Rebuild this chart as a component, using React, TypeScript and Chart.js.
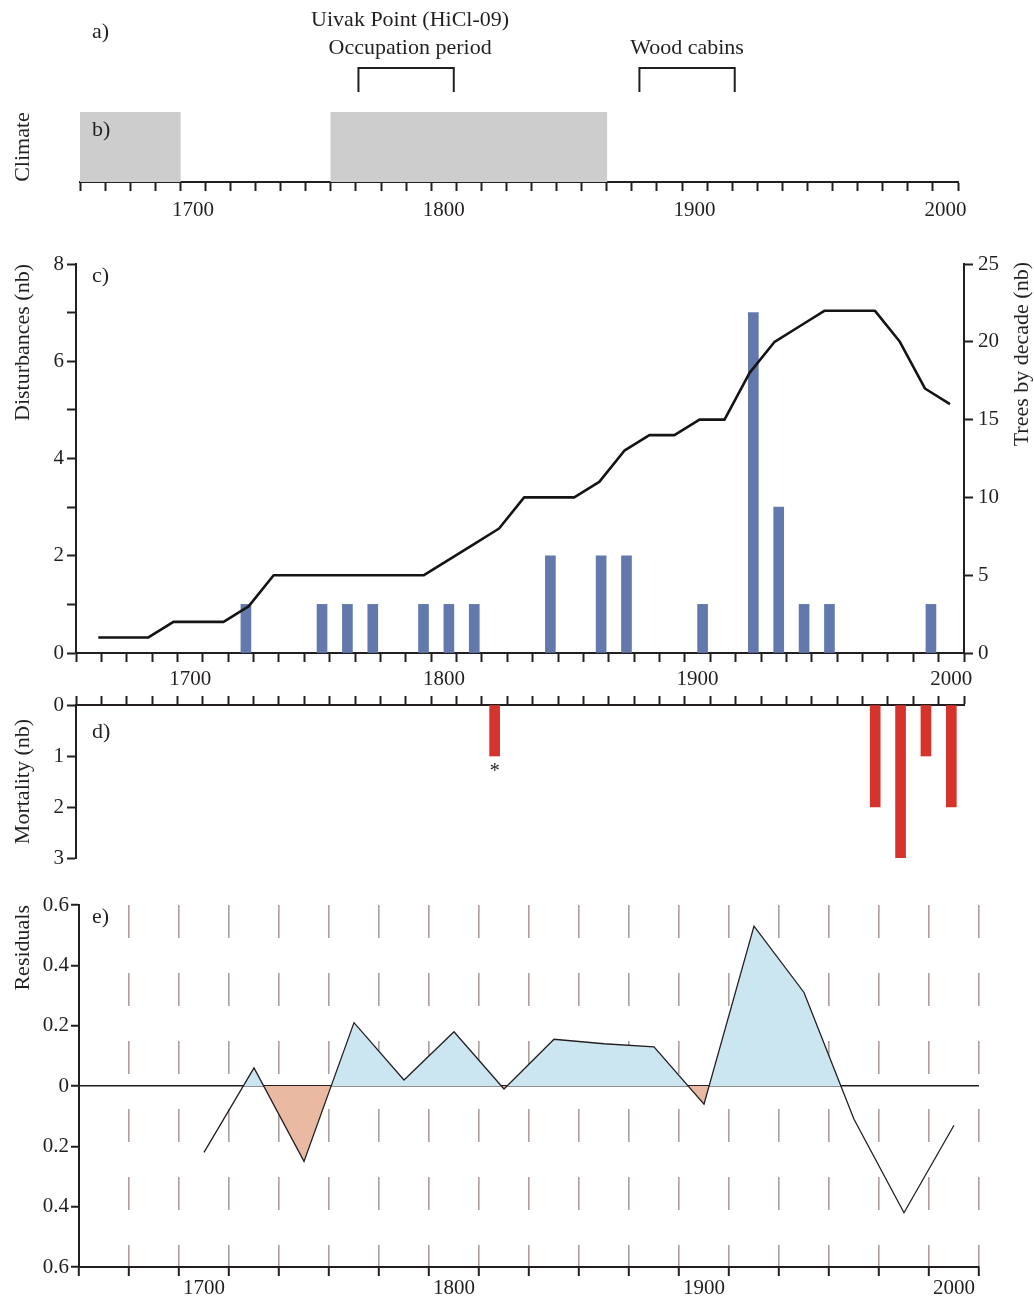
import { useEffect, useRef } from 'react';
import { Chart, registerables } from 'chart.js';

Chart.register(...registerables);

const INK = '#231f20';
const SERIF = "'Liberation Serif', 'Times New Roman', Times, serif";
const NONE = 'rgba(0,0,0,0)';
const WIDTH = 1034;

const DISTURBANCE_BLUE = '#6379ae';
const MORTALITY_RED = '#d6332d';
const CLIMATE_GREY = '#cdcdcd';
const POSITIVE_FILL = '#cbe5f1';
const NEGATIVE_FILL = '#eab9a1';
const GRID_DASH = '#aa9f9b';

Chart.defaults.font.family = SERIF;
Chart.defaults.color = INK;

// a) settlement history
const SETTLEMENT_LABELS = [['Uivak Point (HiCl-09)', 'Occupation period'], ['Wood cabins']];
const SETTLEMENT_START = [1766, 1878];
const SETTLEMENT_END = [1804, 1916];

// b) climate periods
const CLIMATE_START = [1655, 1755];
const CLIMATE_END = [1695, 1865];

// c) disturbance events and recruitment per decade
const DISTURBANCE_YEARS = [1720, 1750, 1760, 1770, 1790, 1800, 1810, 1840, 1860, 1870, 1900, 1920, 1930, 1940, 1950, 1990];
const DISTURBANCE_COUNTS = [1, 1, 1, 1, 1, 1, 1, 2, 2, 2, 1, 7, 3, 1, 1, 1];
const DECADES = [
  1660, 1670, 1680, 1690, 1700, 1710, 1720, 1730, 1740, 1750, 1760, 1770,
  1780, 1790, 1800, 1810, 1820, 1830, 1840, 1850, 1860, 1870, 1880, 1890,
  1900, 1910, 1920, 1930, 1940, 1950, 1960, 1970, 1980, 1990, 2000,
];
const TREES_BY_DECADE = [
  1, 1, 1, 2, 2, 2, 3, 5, 5, 5, 5, 5,
  5, 5, 6, 7, 8, 10, 10, 10, 11, 13, 14, 14,
  15, 15, 18, 20, 21, 22, 22, 22, 20, 17, 16,
];

// d) mortality
const MORTALITY_YEARS = [1820, 1970, 1980, 1990, 2000];
const MORTALITY_COUNTS = [1, 2, 3, 1, 2];
const MORTALITY_FLAGGED = [1820];

// e) residuals
const RESIDUAL_YEARS = [1700, 1720, 1740, 1760, 1780, 1800, 1820, 1840, 1860, 1880, 1900, 1920, 1940, 1960, 1980, 2000];
const RESIDUALS = [-0.22, 0.06, -0.25, 0.21, 0.02, 0.18, -0.01, 0.155, 0.14, 0.13, -0.06, 0.53, 0.31, -0.11, -0.42, -0.13];

// shared year labels
const CENTURY_LABELS = [1700, 1800, 1900, 2000];

function steps(from: number, to: number, step: number): number[] {
  const out: number[] = [];
  for (let v = from; v <= to + 1e-9; v += step) out.push(Math.round(v * 1000) / 1000);
  return out;
}

const isCentury = (v: any) => CENTURY_LABELS.includes(v);

function yearAxis(o: any): any {
  const marks = steps(o.min, o.max, o.step);
  const values = Array.from(new Set([...marks, ...(o.labels ? CENTURY_LABELS : [])])).sort((a, b) => a - b);
  return {
    type: 'linear',
    position: o.position,
    min: o.min,
    max: o.max,
    offset: false,
    beginAtZero: false,
    z: o.z ?? 0,
    afterBuildTicks: (s: any) => {
      s.ticks = values.map((value) => ({ value }));
    },
    afterFit: (s: any) => {
      s.height = o.height;
    },
    ticks: {
      display: o.labels,
      autoSkip: false,
      maxRotation: 0,
      minRotation: 0,
      padding: o.padding ?? 6,
      color: INK,
      font: { size: 21 },
      callback: (v: number) => (isCentury(v) ? String(v) : ''),
    },
    grid: {
      offset: false,
      drawOnChartArea: false,
      drawTicks: true,
      tickLength: 9,
      tickWidth: 2,
      tickColor: (c: any) => (isCentury(c.tick?.value) ? NONE : INK),
      ...(o.grid || {}),
    },
    border: { display: true, color: INK, width: 2, ...(o.border || {}) },
  };
}

function countAxis(o: any): any {
  return {
    type: 'linear',
    position: o.position,
    min: o.min,
    max: o.max,
    reverse: !!o.reverse,
    z: o.z ?? 0,
    afterFit: (s: any) => {
      s.width = o.width;
    },
    ticks: {
      stepSize: o.step,
      padding: o.padding ?? 3,
      color: INK,
      font: { size: 21 },
      callback: o.label || ((v: number) => String(v)),
    },
    grid: {
      drawOnChartArea: false,
      drawTicks: true,
      tickLength: 9,
      tickWidth: 2,
      tickColor: INK,
      ...(o.grid || {}),
    },
    border: { display: true, color: INK, width: 2 },
    title: o.title
      ? {
          display: true,
          text: o.title,
          align: o.titleAlign || 'center',
          color: INK,
          font: { size: 22 },
          padding: { top: 10, bottom: 0 },
        }
      : { display: false },
  };
}

const baseOptions = {
  responsive: false,
  maintainAspectRatio: false,
  animation: false,
  devicePixelRatio: 1,
  events: [],
};
const quietPlugins = { legend: { display: false }, tooltip: { enabled: false } };

function text(ctx: CanvasRenderingContext2D, s: string, x: number, y: number, align: CanvasTextAlign = 'left', size = 22) {
  ctx.font = `${size}px ${SERIF}`;
  ctx.fillStyle = INK;
  ctx.textAlign = align;
  ctx.textBaseline = 'middle';
  ctx.fillText(s, x, y);
}

// ---------- a) + b) timeline ----------
const timelineNotes = {
  id: 'timelineNotes',
  afterDraw(chart: any) {
    const { ctx } = chart;
    const x = chart.scales.x;
    ctx.save();
    ctx.strokeStyle = INK;
    ctx.lineWidth = 2;
    SETTLEMENT_LABELS.forEach((lines, i) => {
      const x0 = x.getPixelForValue(SETTLEMENT_START[i]);
      const x1 = x.getPixelForValue(SETTLEMENT_END[i]);
      ctx.beginPath();
      ctx.moveTo(x0, 92);
      ctx.lineTo(x0, 68);
      ctx.lineTo(x1, 68);
      ctx.lineTo(x1, 92);
      ctx.stroke();
      const cx = (x0 + x1) / 2 + (lines.length > 1 ? 4 : 0);
      lines.forEach((t, j) => text(ctx, t, cx, 48 - (lines.length - 1 - j) * 28, 'center'));
    });
    text(ctx, 'a)', 92, 32);
    text(ctx, 'b)', 92, 130);
    ctx.restore();
  },
};

function timelineConfig(): any {
  return {
    type: 'bar',
    data: {
      labels: ['Climate'],
      datasets: [
        {
          data: CLIMATE_START.map((s, i) => ({ x: [s, CLIMATE_END[i]], y: 'Climate' })),
          backgroundColor: CLIMATE_GREY,
          borderWidth: 0,
          barPercentage: 1,
          categoryPercentage: 1,
        },
      ],
    },
    options: {
      ...baseOptions,
      indexAxis: 'y',
      layout: { padding: { top: 112, right: 76, left: 0, bottom: 0 } },
      plugins: quietPlugins,
      scales: {
        x: yearAxis({ min: 1655, max: 2005, step: 10, position: 'bottom', labels: true, height: 58, padding: 7 }),
        y: {
          type: 'category',
          offset: true,
          afterFit: (s: any) => {
            s.width = 80;
          },
          ticks: { display: false },
          grid: { display: false },
          border: { display: false },
          title: { display: true, text: 'Climate', color: INK, font: { size: 22 }, padding: { top: 10, bottom: 0 } },
        },
      },
    },
    plugins: [timelineNotes],
  };
}

// ---------- c) disturbances ----------
const disturbanceNotes = {
  id: 'disturbanceNotes',
  afterDraw(chart: any) {
    const { ctx } = chart;
    ctx.save();
    text(ctx, 'c)', 92, 36);
    ctx.translate(1022, 22);
    ctx.rotate(-Math.PI / 2);
    text(ctx, 'Trees by decade (nb)', 0, 0, 'right');
    ctx.restore();
  },
};

function disturbanceConfig(): any {
  return {
    type: 'bar',
    data: {
      datasets: [
        {
          type: 'line',
          data: DECADES.map((d, i) => ({ x: d, y: TREES_BY_DECADE[i] })),
          xAxisID: 'xTrees',
          yAxisID: 'yTrees',
          borderColor: '#141414',
          borderWidth: 2.6,
          borderJoinStyle: 'round',
          pointRadius: 0,
          fill: false,
          tension: 0,
          order: 1,
        },
        {
          type: 'bar',
          data: DISTURBANCE_YEARS.map((y, i) => ({ x: y, y: DISTURBANCE_COUNTS[i] })),
          xAxisID: 'x',
          yAxisID: 'y',
          backgroundColor: DISTURBANCE_BLUE,
          barThickness: 10,
          order: 2,
        },
      ],
    },
    options: {
      ...baseOptions,
      layout: { padding: { top: 24, right: 0, left: 0, bottom: 0 } },
      plugins: quietPlugins,
      scales: {
        x: yearAxis({ min: 1655, max: 2005, step: 10, position: 'bottom', labels: true, height: 47, padding: 5 }),
        // the recruitment curve sits on its own, slightly narrower decade axis
        xTrees: { axis: 'x', type: 'linear', display: false, min: 1651.1, max: 2005.6, offset: false, grid: { offset: false } },
        y: countAxis({
          position: 'left', min: 0, max: 8, step: 1, width: 76,
          label: (v: number) => (v % 2 === 0 ? String(v) : ''),
          title: 'Disturbances (nb)', titleAlign: 'end',
        }),
        yTrees: { ...countAxis({ position: 'right', min: 0, max: 25, step: 5, width: 70, padding: 5 }), axis: 'y' },
      },
    },
    plugins: [disturbanceNotes],
  };
}

// ---------- d) mortality ----------
const mortalityNotes = {
  id: 'mortalityNotes',
  afterDraw(chart: any) {
    const { ctx } = chart;
    const x = chart.scales.x;
    const y = chart.scales.y;
    ctx.save();
    text(ctx, 'd)', 92, 44);
    MORTALITY_FLAGGED.forEach((year) => {
      const v = MORTALITY_COUNTS[MORTALITY_YEARS.indexOf(year)];
      ctx.font = `20px ${SERIF}`;
      ctx.fillStyle = INK;
      ctx.textAlign = 'center';
      ctx.textBaseline = 'top';
      ctx.fillText('*', x.getPixelForValue(year), y.getPixelForValue(v) + 6);
    });
    ctx.restore();
  },
};

function mortalityConfig(): any {
  return {
    type: 'bar',
    data: {
      datasets: [
        {
          data: MORTALITY_YEARS.map((yr, i) => ({ x: yr, y: MORTALITY_COUNTS[i] })),
          backgroundColor: MORTALITY_RED,
          barThickness: 10,
        },
      ],
    },
    options: {
      ...baseOptions,
      layout: { padding: { top: 0, right: 70, left: 0, bottom: 22 } },
      plugins: quietPlugins,
      scales: {
        x: yearAxis({ min: 1655, max: 2005, step: 10, position: 'top', labels: false, height: 17 }),
        y: countAxis({ position: 'left', min: 0, max: 3, step: 1, width: 76, reverse: true, title: 'Mortality (nb)' }),
      },
    },
    plugins: [mortalityNotes],
  };
}

// ---------- e) residuals ----------
function zeroCrossings(xs: number[], ys: number[]): number[] {
  const out: number[] = [];
  for (let i = 0; i < ys.length - 1; i++) {
    if (ys[i] * ys[i + 1] < 0) out.push(xs[i] + ((xs[i + 1] - xs[i]) * ys[i]) / (ys[i] - ys[i + 1]));
  }
  return out;
}

// shading is limited to the stretch between the first and last zero crossing
const residualShading = {
  id: 'residualShading',
  beforeDatasetsDraw(chart: any) {
    const crossings = zeroCrossings(RESIDUAL_YEARS, RESIDUALS);
    const x = chart.scales.x;
    const { top, bottom } = chart.chartArea;
    const x0 = x.getPixelForValue(crossings[0]);
    const x1 = x.getPixelForValue(crossings[crossings.length - 1]);
    chart.ctx.save();
    chart.ctx.beginPath();
    chart.ctx.rect(x0, top, x1 - x0, bottom - top);
    chart.ctx.clip();
  },
  afterDatasetDraw(chart: any, args: any) {
    if (args.index === 0) chart.ctx.restore();
  },
};

const residualNotes = {
  id: 'residualNotes',
  afterDraw(chart: any) {
    const { ctx } = chart;
    ctx.save();
    text(ctx, 'e)', 92, 37);
    ctx.restore();
  },
};

function residualConfig(): any {
  const points = RESIDUAL_YEARS.map((yr, i) => ({ x: yr, y: RESIDUALS[i] }));
  return {
    type: 'line',
    data: {
      datasets: [
        {
          data: points,
          borderWidth: 0,
          pointRadius: 0,
          tension: 0,
          fill: { target: { value: 0 }, above: POSITIVE_FILL, below: NEGATIVE_FILL },
          order: 2,
        },
        {
          data: points,
          borderColor: INK,
          borderWidth: 1.3,
          pointRadius: 0,
          tension: 0,
          fill: false,
          order: 1,
        },
      ],
    },
    options: {
      ...baseOptions,
      layout: { padding: { top: 25, right: 55, left: 0, bottom: 0 } },
      plugins: quietPlugins,
      scales: {
        x: yearAxis({
          min: 1650, max: 2010, step: 20, position: 'bottom', labels: true, height: 33, padding: 0, z: 1,
          grid: {
            drawOnChartArea: true,
            lineWidth: 1.6,
            color: (c: any) => (isCentury(c.tick?.value) || c.tick?.value === 1650 ? NONE : GRID_DASH),
          },
          border: { dash: [33, 35] },
        }),
        y: countAxis({
          position: 'left', min: -0.6, max: 0.6, step: 0.2, width: 79, padding: 2, z: 1,
          label: (v: number) => (Math.abs(v) < 1e-9 ? '0' : Math.abs(v).toFixed(1)),
          grid: {
            drawOnChartArea: true,
            lineWidth: 1.5,
            tickLength: 8,
            color: (c: any) => (Math.abs(c.tick?.value ?? 1) < 1e-9 ? INK : NONE),
          },
          title: 'Residuals', titleAlign: 'end',
        }),
      },
    },
    plugins: [residualShading, residualNotes],
  };
}

function ChartPanel({ top, height, config }: { top: number; height: number; config: () => any }) {
  const ref = useRef<HTMLCanvasElement | null>(null);
  useEffect(() => {
    if (!ref.current) return;
    const chart = new Chart(ref.current, config());
    return () => chart.destroy();
  }, [config]);
  return (
    <canvas
      ref={ref}
      width={WIDTH}
      height={height}
      style={{ position: 'absolute', left: 0, top, width: WIDTH, height }}
    />
  );
}

export default function App() {
  return (
    <div style={{ position: 'absolute', left: 0, top: 0, width: WIDTH, height: 1300, background: '#ffffff', overflow: 'hidden' }}>
      <ChartPanel top={0} height={240} config={timelineConfig} />
      <ChartPanel top={240} height={460} config={disturbanceConfig} />
      <ChartPanel top={688} height={192} config={mortalityConfig} />
      <ChartPanel top={880} height={420} config={residualConfig} />
    </div>
  );
}
